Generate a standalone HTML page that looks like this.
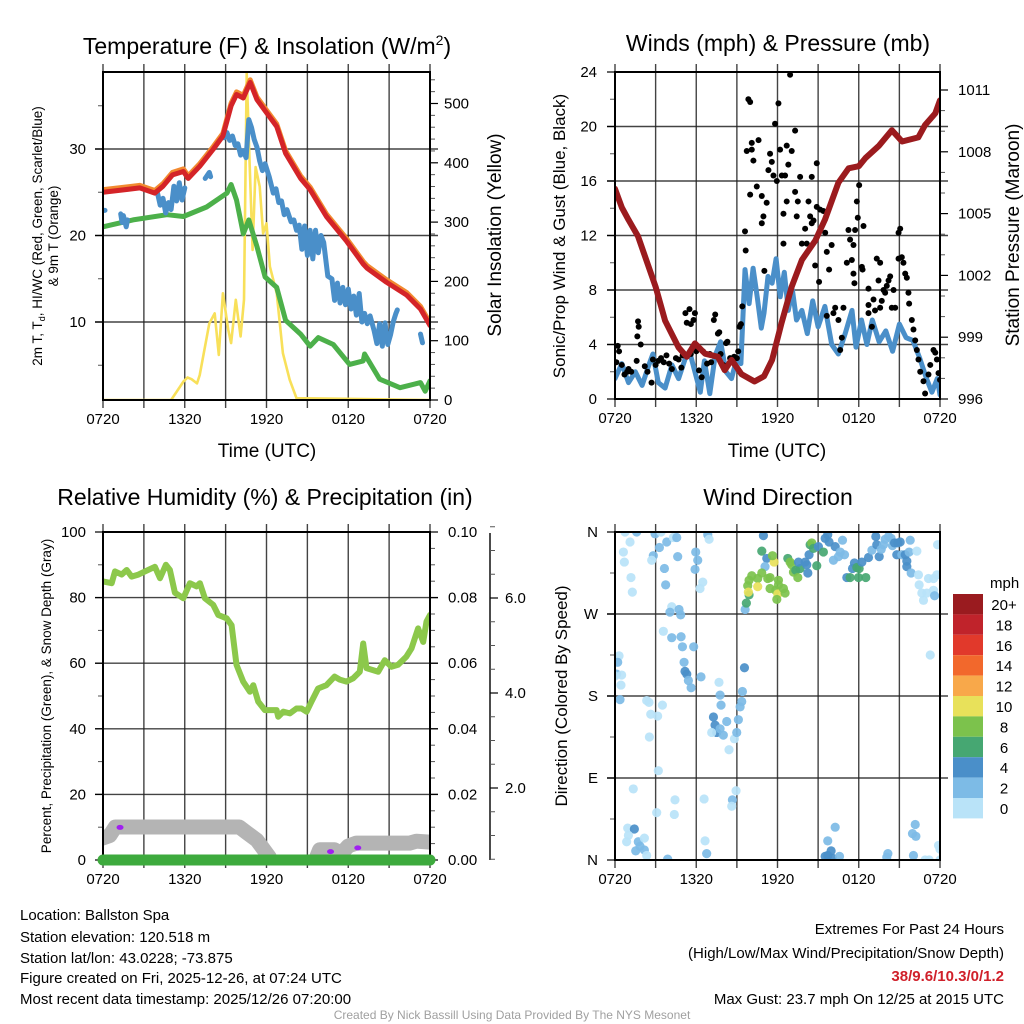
<!DOCTYPE html>
<html><head><meta charset="utf-8"><style>
html,body{margin:0;padding:0;background:#fff;}
svg{display:block;font-family:"Liberation Sans",Arial,sans-serif;}
</style></head><body>
<svg id="fig" width="1024" height="1024" viewBox="0 0 1024 1024" xmlns="http://www.w3.org/2000/svg">
<defs>
<clipPath id="c1"><rect x="103" y="72" width="327" height="328"/></clipPath>
<clipPath id="c2"><rect x="615" y="72" width="325" height="327"/></clipPath>
<clipPath id="c3"><rect x="103" y="532" width="327" height="328"/></clipPath>
<clipPath id="c4"><rect x="615" y="532" width="325" height="328"/></clipPath>
</defs>
<g id="p1"></g>
<g id="p2"></g>
<g id="p3"></g>
<g id="p4"></g>
<text x="267" y="54" font-size="23" text-anchor="middle">Temperature (F) &amp; Insolation (W/m<tspan font-size="14" dy="-9">2</tspan><tspan dy="9">)</tspan></text>
<text x="778" y="51" font-size="23" text-anchor="middle">Winds (mph) &amp; Pressure (mb)</text>
<text x="265" y="505" font-size="23" text-anchor="middle">Relative Humidity (%) &amp; Precipitation (in)</text>
<text x="778" y="505" font-size="23" text-anchor="middle">Wind Direction</text>
<text x="267" y="457" font-size="19" text-anchor="middle">Time (UTC)</text>
<text x="777" y="457" font-size="19" text-anchor="middle">Time (UTC)</text>
<text transform="translate(42,236) rotate(-90)" font-size="13.5" text-anchor="middle">2m T, T<tspan font-size="9" dy="3">d</tspan><tspan dy="-3">, HI/WC (Red, Green, Scarlet/Blue)</tspan></text>
<text transform="translate(58,236) rotate(-90)" font-size="13.5" text-anchor="middle">&amp; 9m T (Orange)</text>
<text transform="translate(501,235) rotate(-90)" font-size="19" text-anchor="middle">Solar Insolation (Yellow)</text>
<text transform="translate(565,236) rotate(-90)" font-size="17" text-anchor="middle">Sonic/Prop Wind &amp; Gust (Blue, Black)</text>
<text transform="translate(1019,235) rotate(-90)" font-size="19" text-anchor="middle">Station Pressure (Maroon)</text>
<text transform="translate(51,696) rotate(-90)" font-size="13.5" text-anchor="middle">Percent, Precipitation (Green), &amp; Snow Depth (Gray)</text>
<text transform="translate(567,696) rotate(-90)" font-size="17" text-anchor="middle">Direction (Colored By Speed)</text>
<g font-size="15">
<text x="20" y="920">Location: Ballston Spa</text>
<text x="20" y="942">Station elevation: 120.518 m</text>
<text x="20" y="963">Station lat/lon: 43.0228; -73.875</text>
<text x="20" y="983">Figure created on Fri, 2025-12-26, at 07:24 UTC</text>
<text x="20" y="1004">Most recent data timestamp: 2025/12/26 07:20:00</text>
</g>
<g font-size="15" text-anchor="end">
<text x="1004" y="934">Extremes For Past 24 Hours</text>
<text x="1004" y="958">(High/Low/Max Wind/Precipitation/Snow Depth)</text>
<text x="1004" y="981" fill="#d0202a" font-weight="bold">38/9.6/10.3/0/1.2</text>
<text x="1004" y="1004">Max Gust: 23.7 mph On 12/25 at 2015 UTC</text>
</g>
<text x="512" y="1019" font-size="12" fill="#a0a0a0" text-anchor="middle">Created By Nick Bassill Using Data Provided By The NYS Mesonet</text>
<g id="cbar"></g>
</svg>
<script>
// ---------- DATA ----------
const xTickLabels = ["0720","1320","1920","0120","0720"];
// Panel 1: temperature (hours since 0720 UTC)
const tempT = [0,2.7,3.8,4.4,5.1,5.9,6.25,7.1,8.1,8.8,9.4,9.8,10.3,10.8,11.3,12,12.75,13.4,14.5,15.2,16.4,17.9,19.1,19.4,20.8,22.3,23.3,24];
const tempV = [25.0,25.5,24.9,25.7,27,27.4,26.6,28,30,31.5,35,36.3,35.9,37.7,35.7,34.2,32.6,29.5,26.6,25.3,22.2,19.3,16.7,16.2,14.6,13.1,11.5,9.6];
const dewT = [0,2.2,4.7,5.9,7.6,9.1,9.4,9.8,10.3,10.7,11.3,11.9,12.75,13.4,14.5,15.2,15.8,16.9,18.1,19.1,19.2,20.3,21.8,23.3,23.65,24];
const dewV = [21.0,21.8,22.4,22.2,23.3,24.9,25.9,24.1,20.2,21.8,18.7,15.2,14,10.2,8.6,7.2,8.2,7.4,5.1,5.5,6.3,3.4,2.4,3,2,3.2];
const wcT = [0,0.15,null,1.3,1.4,1.5,1.7,1.8,null,4.0,4.2,4.4,4.6,4.8,5.0,5.2,5.4,5.6,5.8,6.0,null,7.5,7.8,7.9,null,8.9,9.1,9.3,9.5,9.7,9.9,10.1,10.3,10.5,10.7,10.9,11.1,11.3,11.5,11.7,11.9,12.2,12.5,12.7,12.9,13.1,13.3,13.5,13.8,14.0,14.2,14.4,14.6,14.8,15.0,15.2,15.4,15.6,15.8,16.0,16.2,16.5,16.8,17.0,17.2,17.4,17.6,17.8,18.0,18.2,18.4,18.6,18.8,19.0,19.2,19.4,19.6,19.9,20.1,20.3,20.5,20.7,20.9,21.1,21.3,21.5,21.6,null,23.3,23.45];
const wcV = [22.9,22.9,null,22.5,21.5,22.3,21.0,21.8,null,24.9,23.5,24.3,22.6,23.8,23.0,25.7,24.0,26.1,24.1,25.5,null,26.6,27.3,26.8,null,31.3,31.9,31.0,31.5,30.4,30.6,29.3,29.8,29.0,33.4,32.5,31.1,30.2,28.6,27.5,28.3,26.8,24.9,25.4,23.8,24.0,22.4,23.0,21.6,21.8,20.6,21.2,18.4,21.1,17.7,20.6,17.3,20.6,18.0,20.0,19.2,15.3,15.0,12.5,14.5,12.2,14.0,12.0,13.8,11.5,13.0,10.8,13.3,10.0,11.0,9.8,10.7,9.0,7.5,9.8,7.2,9.9,7.4,8.5,10.0,11.0,11.4,null,8.6,7.6];
const solarT = [0,5.0,5.9,6.2,6.5,6.9,7.1,7.8,8.2,8.5,8.8,9.2,9.4,9.75,10.1,10.35,10.55,10.75,10.98,11.2,11.5,11.75,12.0,12.25,12.75,13.2,13.7,14.2,24];
const solarV = [0,0,31,38,35,28,42,129,146,76,180,118,96,169,107,169,551,405,253,393,360,281,298,225,180,79,34,3,0];
// Panel 2: winds & pressure
const presT = [0,0.5,1,1.7,3,3.7,4.7,5.3,5.9,6.65,7.6,8.1,8.6,9.35,10.3,11,11.6,12.3,13.05,13.8,14.8,15.5,16.5,17.25,18,18.5,19.5,20.45,21.2,22.4,22.9,23.65,24];
const presV = [1006.2,1005.3,1004.7,1003.9,1001.45,999.8,998.5,998.05,998.7,998.2,998.05,997.4,997.9,997.2,996.85,997.1,997.9,999.7,1001.45,1002.75,1003.7,1004.7,1006.5,1007.2,1007.3,1007.7,1008.3,1009.05,1008.5,1008.7,1009.3,1009.87,1010.5];
const windT = [0,0.5,1,1.5,2,2.5,2.8,3.2,3.7,4.2,4.7,5.2,5.5,5.9,6.3,6.6,7,7.4,7.8,8.2,8.6,9,9.3,9.6,9.9,10.2,10.5,10.8,11,11.3,11.6,11.9,12.2,12.5,12.8,13.1,13.4,13.8,14.2,14.6,15,15.5,16,16.5,17,17.5,17.8,18.2,18.6,19,19.5,20,20.5,21,21.5,22,22.5,23,23.4,23.8,24];
const windV = [1.5,2.6,1.2,2,1.0,2.5,3.3,1.2,0.8,2.5,1.5,3,3.5,2.0,0.5,2.8,0.4,3.2,4.2,2.0,1.5,3.0,2.6,9.5,7,9.6,7.5,5.2,6.3,9.0,8.5,10.3,7.5,9.3,6.5,8,5.8,6.5,4.8,7.2,5.3,6.8,4,3.3,4.8,6.5,3.8,5.8,4.0,5.8,4.2,5.0,3.5,5.5,4.5,4.3,3.0,1.5,0.5,1.5,0.3];
const gustT = [0.1,0.2,0.3,0.5,0.7,0.9,1.0,1.2,1.6,1.7,1.75,1.65,1.9,2.2,2.4,2.7,2.8,3.0,3.2,3.4,3.6,3.8,4.0,4.2,4.5,4.7,4.9,5.0,5.2,5.3,5.5,5.6,5.8,5.9,5.6,6.0,6.2,6.4,6.5,6.8,7.0,7.1,7.3,7.4,7.6,7.7,7.8,8.0,8.2,8.3,8.5,8.7,8.8,9.0,9.1,9.2,9.3,9.4,9.6,9.65,
9.85,9.98,9.73,10.1,10.1,10.6,10.22,10.47,9.98,10.84,11.2,10.96,10.84,11.03,11.33,11.82,11.45,11.58,11.7,11.95,12.07,12.19,12.32,12.56,12.8,12.68,12.44,12.44,12.68,12.93,13.05,13.3,13.3,13.42,13.5,13.67,13.8,14.04,14.16,14.29,14.41,14.53,14.53,14.66,14.78,14.9,14.9,15.15,15.39,15.52,15.07,15.64,16.0,15.81,16.26,15.64,16.13,16.5,16.87,16.75,16.63,
17.12,17.24,17.36,17.49,17.61,17.61,17.68,17.73,17.86,17.93,18.03,18.23,18.35,18.28,18.72,18.72,18.72,18.97,19.09,19.2,19.33,19.58,19.46,19.58,19.7,19.83,19.95,20.07,20.2,20.32,20.44,20.57,20.69,20.94,20.94,21.06,21.18,21.3,21.43,21.55,21.67,21.72,21.92,22.04,22.17,22.29,22.41,22.54,22.78,22.9,23.15,23.28,23.52,23.65,23.77,23.89,24.0];
const gustV = [2.7,3.9,3.5,2.5,1.8,2.0,2.2,2.0,2.8,5.7,5.3,4.6,4.0,2.4,2.0,1.2,2.9,2.5,2.8,3.0,2.7,3.2,2.6,2.2,3.0,2.9,2.3,3.2,6.3,5.6,6.6,5.5,5.8,6.3,3.3,3.5,2.1,1.6,3.5,2.6,3.3,2.7,5.8,6.2,4.8,4.9,3.3,2.5,4.1,4.2,3.0,2.8,3.1,3.0,3.5,5.3,5.5,6.8,12.3,10.9,
22,21.8,18.2,18.3,18.8,19,17.5,15.6,15,14.9,14.4,13.4,12.9,9.4,16.8,20.2,18,17.4,16.4,16,21.7,18.3,16.4,16.4,17.2,14.5,13.6,11.4,18.6,23.8,18.2,19.7,15.2,13.4,14.5,16.3,11.4,12.5,11.4,14.5,13.4,16.3,12.9,13.1,9.8,17.3,14.1,13.9,13.8,12.2,8.6,10.8,11.3,9.5,6.7,6.1,6.3,5.8,6.7,4.5,3.6,
10,12.4,11.7,10.2,11.3,9.2,8.5,12.4,14.5,13.3,15.7,9.7,12.7,9.5,8.1,6.9,6.3,5.3,7.3,6.5,10.3,10,8.7,6.7,7.2,8,7.8,8.3,8.7,9,6.7,8,6.7,10.3,12.2,12.5,10.4,10,9.2,8.9,7.8,7,5.8,5.1,4.3,3.6,2.9,2.0,1.3,0.4,1.8,2.5,3.6,3.4,2.9,1.9,1.4];
// Panel 3: RH, precipitation, snow depth
const rhT = [0,0.64,0.88,1.37,1.74,2.1,2.6,3.08,3.81,4.18,4.62,4.91,5.28,5.89,6.38,6.87,7.11,7.48,8.09,8.46,9.07,9.44,9.8,10.29,10.78,11.03,11.39,11.88,12.74,12.86,13.23,13.72,14.2,14.57,14.94,15.3,15.79,16.4,17.0,17.38,17.87,18.36,18.85,19.1,19.34,20.2,20.68,21.17,21.66,22.27,22.64,23.13,23.5,23.74,24];
const rhV = [84.9,84.4,88,87,88.4,86.4,87,88,89.4,85.9,90,88.4,81.5,79.8,84.4,83.4,84.4,79.8,77.8,74.7,73.7,71.6,59.5,54.4,51.3,53.3,48.3,45.7,45.7,43.7,45.2,44.7,46.2,46.2,45.2,48.3,52.3,53.3,55.9,55.0,54.4,55.4,57.4,66,58.5,57.4,60.9,58.9,59.5,62,64.5,70.6,66.5,72.7,74.7];
const precipT = [0,24];
const precipV = [0,0];
const snowT = [0,0.5,0.9,10.0,10.6,11.3,12.2,12.8,15.2,15.9,17.0,17.5,18.0,18.6,22.5,23,24];
const snowV = [0.95,1.0,1.18,1.18,1.05,0.9,0.55,0.2,0.2,0.7,0.7,0.62,0.78,0.84,0.84,0.88,0.86];
const snowMarkT = [1.25,16.7,18.7];
const snowMarkV = [1.17,0.66,0.74];
// Panel 4: wind direction (hours, degrees, mph)
const dirT = [0.74,1.6,2.96,3.4,1.11,0.62,0.69,1.18,1.28,2.83,2.71,3.28,3.82,4.31,4.56,4.63,3.65,3.74,5.96,6.11,5.91,6.85,6.95,6.48,6.28,4.19,4.06,4.73,4.85,3.57,4.19,4.88,4.98,5.81,5.1,5.17,5.3,5.42,5.62,6.35,0.3,0.2,0.12,0,0.49,0.44,0.37,2.34,2.51,3.5,2.64,3.15,2.54,3.2,7.68,7.76,7.83,7.27,7.39,7.51,7.14,7.76,8.0,8.25,8.42,8.82,8.99,9.11,9.24,9.36,9.41,9.56,1.35,3.08,4.43,4.38,6.58,8.94,8.67,8.62,0.94,1.43,0.99,0.86,1.72,1.85,2.17,2.17,1.53,2.34,3.89,6.65,6.77,10.96,10.84,11.21,11.08,11.75,11.63,10.1,10.54,10.84,9.9,9.8,9.9,9.85,10.54,11.28,11.45,11.45,12.07,12.07,11.87,12.02,11.95,12.44,12.56,12.76,12.93,13.05,13.18,13.35,13.5,13.67,13.55,14.04,14.24,14.16,14.33,14.41,14.53,14.66,15.02,14.9,15.39,15.52,15.71,15.81,16.26,16.13,16.5,16.8,16.95,16.63,17.12,17.36,17.54,17.68,17.86,18.03,17.98,18.23,18.52,18.72,18.97,19.26,19.33,19.51,19.66,19.83,19.95,20.2,20.39,20.49,20.64,20.81,20.89,21.06,21.18,21.43,21.55,21.55,21.72,21.8,21.87,22.29,22.41,22.46,22.66,22.78,23.03,23.15,23.52,23.77,23.52,23.6,23.82,9.61,9.7,23.28,15.71,16.26,15.96,15.71,16.06,16.58,15.52,20.15,20.07,22.17,21.97,22.22,22.04,22.9,23.2,23.89,24,24];
const dirDeg = [360,360,358,360,349,338,327,310,294,334,329,343,349,354,354,333,320,302,338,329,319,357,352,305,298,278,272,275,269,251,244,245,234,234,217,207,204,197,189,201,224,217,204,202,203,192,176,175,173,170,160,158,135,98,195,181,170,157,148,140,140,144,137,152,121,133,140,154,168,174,185,211,78,52,66,50,67,76,66,59,35,34,27,20,20,15,24,11,10,5,1,21,7,356,339,331,322,327,334,312,309,315,307,301,291,294,300,309,310,298,307,302,296,292,286,298,293,331,327,324,316,318,310,320,327,327,315,324,335,346,348,342,344,323,338,353,357,349,344,329,333,351,335,338,310,310,320,326,321,320,310,327,310,332,340,355,346,333,341,346,352,355,353,345,348,335,348,349,335,335,328,322,338,351,315,339,313,302,293,285,293,309,309,313,296,290,346,275,282,225,21,36,10,5,2,4,4,7,3,39,29,26,5,0,0,16,12,0];
const dirSpd = [1,3,3,1,1,1,1,1,1,3,1,3,3,1,3,3,3,3,3,3,3,3,1,1,1,1,3,3,3,1,3,3,3,3,3,5,5,3,3,3,1,3,3,1,1,1,3,1,1,1,1,1,1,1,1,3,3,5,5,5,1,3,3,3,1,1,3,3,3,3,3,5,1,1,1,1,1,1,3,1,1,5,1,1,3,3,1,3,3,1,3,1,3,5,7,5,3,11,9,9,9,9,9,9,7,11,11,9,9,9,9,9,9,11,9,9,9,7,9,9,9,7,9,7,5,5,5,5,5,7,9,7,5,7,7,5,5,5,5,3,3,3,3,3,5,7,5,5,7,7,7,5,7,5,3,5,5,5,3,3,3,3,3,3,5,5,5,5,3,5,5,5,3,3,3,1,1,1,1,1,1,1,1,1,1,3,1,3,7,1,3,3,5,5,5,3,5,3,3,3,3,3,3,1,1,1,1,1];
// colorbar
const cbLabels = ["20+","18","16","14","12","10","8","6","4","2","0"];
const cbColors = ["#9a1b1f","#c0232b","#e1392b","#f2682c","#f8a84a","#e8e15a","#7cc24c","#46a772","#4a8fc9","#7dbbe6","#b9e3f8"];

// ---------- HELPERS ----------
const NS="http://www.w3.org/2000/svg";
function mk(tag,parent,attrs){const e=document.createElementNS(NS,tag);for(const k in attrs)e.setAttribute(k,attrs[k]);parent.appendChild(e);return e;}
function lin(d0,d1,r0,r1){return v=>r0+(v-d0)*(r1-r0)/(d1-d0);}
function pathFrom(T,V,sx,sy){let d="",pen=false;for(let i=0;i<T.length;i++){if(T[i]===null||V[i]===null){pen=false;continue;}d+=(pen?"L":"M")+sx(T[i]).toFixed(1)+" "+sy(V[i]).toFixed(1);pen=true;}return d;}
function speedColor(s){const i=Math.min(10,Math.floor(s/2));return cbColors[10-i];}

function frame(g,L,T,R,B,sx,gridYs,clip){
  // vertical grid every 3 h
  for(let h=0;h<=24;h+=3){
    const x=sx(h);
    const ln=mk("line",g,{x1:x,y1:T-8,x2:x,y2:B+8,stroke:"#222","stroke-width":1.4,"stroke-opacity":0.85});
    
    
  }
  gridYs.forEach(y=>{
    const ln=mk("line",g,{x1:L-8,y1:y,x2:R+8,y2:y,stroke:"#222","stroke-width":1.4,"stroke-opacity":0.85});
    
    
  });
  xTickLabels.forEach((lab,i)=>{
    const t=mk("text",g,{x:sx(i*6),y:B+24,"font-size":15,"text-anchor":"middle"});t.textContent=lab;
    
    
  });
}
function border(g,L,T,R,B){
  const r=mk("rect",g,{x:L,y:T,width:R-L,height:B-T,fill:"none",stroke:"#000","stroke-width":2});
  
  
}
function yTicks(g,x,dir,vals,sy,labels,anchorX,anchor,minor){
  vals.forEach((v,i)=>{
    const y=sy(v);
    mk("line",g,{x1:x,y1:y,x2:x+dir*8,y2:y,stroke:"#000","stroke-width":1.2});
    if(labels){const t=mk("text",g,{x:anchorX,y:y+5,"font-size":15,"text-anchor":anchor});t.textContent=labels[i];
      
      }
  });
  (minor||[]).forEach(v=>{const y=sy(v);mk("line",g,{x1:x,y1:y,x2:x+dir*5,y2:y,stroke:"#555","stroke-width":1});});
}
function series(g,clip,d,color,w,name){
  const p=mk("path",g,{d:d,fill:"none",stroke:color,"stroke-width":w,"stroke-linejoin":"round","stroke-linecap":"round","clip-path":"url(#"+clip+")"});
  
  
  return p;
}

// ---------- PANEL 1 ----------
(function(){
  const g=document.getElementById("p1");
  const L=103,T=72,R=430,B=400;
  const sx=lin(0,24,L,R), sy=lin(0,10,408.5,322), ss=lin(0,500,400,103.5);
  frame(g,L,T,R,B,sx,[sy(10),sy(20),sy(30)]);
  yTicks(g,L,-1,[10,20,30],sy,["10","20","30"],86,"end",[5,15,25,35]);
  yTicks(g,R,1,[0,100,200,300,400,500],ss,["0","100","200","300","400","500"],444,"start",[20,40,60,80,120,140,160,180,220,240,260,280,320,340,360,380,420,440,460,480,520,540]);
  series(g,"c1",pathFrom(solarT,solarV,sx,ss),"#f8e05a",2.6,"solar-line");
  series(g,"c1",pathFrom(dewT,dewV,sx,sy),"#4cb04a",5,"dewpoint-line");
  series(g,"c1",pathFrom(wcT,wcV,sx,sy),"#4a8fc9",5,"windchill-line");
  series(g,"c1",pathFrom(tempT,tempV.map(v=>v+0.3),sx,sy),"#f28a30",5,"temp-9m-line");
  series(g,"c1",pathFrom(tempT,tempV,sx,sy),"#d42428",5,"temp-2m-line");
  border(g,L,T,R,B);
})();

// ---------- PANEL 2 ----------
(function(){
  const g=document.getElementById("p2");
  const L=615,T=72,R=940,B=399;
  const sx=lin(0,24,L,R), sy=lin(0,24,399,72), sp=lin(996,1011,399,90);
  frame(g,L,T,R,B,sx,[4,8,12,16,20].map(sy));
  yTicks(g,L,-1,[0,4,8,12,16,20,24],sy,["0","4","8","12","16","20","24"],597,"end",[2,6,10,14,18,22]);
  yTicks(g,R,1,[996,999,1002,1005,1008,1011],sp,["996","999","1002","1005","1008","1011"],958,"start",[997,998,1000,1001,1003,1004,1006,1007,1009,1010]);
  series(g,"c2",pathFrom(windT,windV,sx,sy),"#4a8fc9",5,"wind-speed-line");
  gustT.forEach((t,i)=>{
    const c=mk("circle",g,{cx:sx(t),cy:sy(gustV[i]),r:3,fill:"#000","clip-path":"url(#c2)"});
    
    
  });
  series(g,"c2",pathFrom(presT,presV,sx,sp),"#9b1b1e",6,"pressure-line");
  border(g,L,T,R,B);
})();

// ---------- PANEL 3 ----------
(function(){
  const g=document.getElementById("p3");
  const L=103,T=532,R=430,B=860;
  const sx=lin(0,24,L,R), sy=lin(0,100,860,532), sq=lin(0,0.1,860,532), sn=lin(0,2,883,788);
  frame(g,L,T,R,B,sx,[20,40,60,80].map(sy));
  yTicks(g,L,-1,[0,20,40,60,80,100],sy,["0","20","40","60","80","100"],86,"end",[10,30,50,70,90]);
  yTicks(g,R,1,[0,0.02,0.04,0.06,0.08,0.1],sq,["0.00","0.02","0.04","0.06","0.08","0.10"],448,"start",[0.005,0.01,0.015,0.025,0.03,0.035,0.045,0.05,0.055,0.065,0.07,0.075,0.085,0.09,0.095]);
  const ax=mk("line",g,{x1:490,y1:533,x2:490,y2:860,stroke:"#000","stroke-width":1.4});
  
  
  yTicks(g,490,1,[2,4,6],sn,["2.0","4.0","6.0"],505,"start",[0.5,1,1.5,2.5,3,3.5,4.5,5,5.5,6.5,7,7.5]);
  series(g,"c3",pathFrom(snowT,snowV,sx,sn),"#b4b4b4",15,"snow-depth-line");
  snowMarkT.forEach((t,i)=>{
    const e=mk("ellipse",g,{cx:sx(t),cy:sn(snowMarkV[i]),rx:3.5,ry:2.5,fill:"#a020f0"});
    
    
  });
  series(g,"c3",pathFrom(rhT,rhV,sx,sy),"#8cc84b",6,"humidity-line");
  border(g,L,T,R,B);
  const p=mk("path",g,{d:pathFrom(precipT,precipV,sx,sq),fill:"none",stroke:"#3daa3d","stroke-width":11,"stroke-linecap":"round"});
  
  
})();

// ---------- PANEL 4 ----------
(function(){
  const g=document.getElementById("p4");
  const L=615,T=532,R=940,B=860;
  const sx=lin(0,24,L,R), sd=lin(0,360,860,532);
  frame(g,L,T,R,B,sx,[90,180,270].map(sd));
  yTicks(g,L,-1,[0,90,180,270,360],sd,["N","E","S","W","N"],598,"end",[45,135,225,315]);
  dirT.forEach((t,i)=>{
    const c=mk("circle",g,{cx:sx(t),cy:sd(dirDeg[i]),r:4.6,fill:speedColor(dirSpd[i]),"fill-opacity":0.92,"clip-path":"url(#c4)"});
    
    
  });
  border(g,L,T,R,B);
})();

// ---------- COLORBAR ----------
(function(){
  const g=document.getElementById("cbar");
  const t0=mk("text",g,{x:990,y:588,"font-size":15});t0.textContent="mph";
  
  
  cbLabels.forEach((lab,i)=>{
    const r=mk("rect",g,{x:953,y:594+i*20.4,width:30,height:20.4,fill:cbColors[i]});
    
    
    const t=mk("text",g,{x:1004,y:610+i*20.4,"font-size":15,"text-anchor":"middle"});t.textContent=lab;
    
    
  });
})();
</script>
</body></html>
